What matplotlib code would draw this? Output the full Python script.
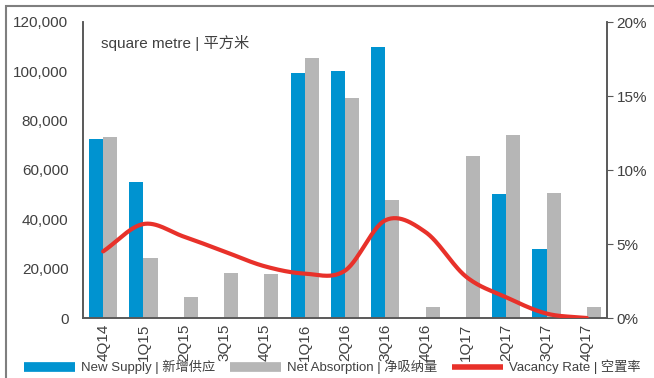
import numpy as np
import matplotlib.pyplot as plt
from matplotlib.lines import Line2D
from matplotlib.patches import Rectangle

plt.rcParams['font.family'] = ['Liberation Sans', 'Noto Sans CJK SC']

quarters = ['4Q14', '1Q15', '2Q15', '3Q15', '4Q15', '1Q16', '2Q16',
            '3Q16', '4Q16', '1Q17', '2Q17', '3Q17', '4Q17']
new_supply = [72500, 55100, 0, 0, 0, 99300, 100100, 109900, 0, 0, 50300, 28000, 0]
net_absorption = [73200, 24400, 8600, 18100, 18000, 105400, 89200, 47800,
                  4300, 65700, 74200, 50700, 4600]
vacancy = [4.5, 6.35, 5.5, 4.5, 3.5, 3.0, 3.2, 6.6, 5.8, 2.8, 1.4, 0.3, 0.0]

blue = '#0093D0'
grey = '#B6B6B6'
red = '#E8312A'
txt = '#404040'
axc = '#595959'


def smooth(xs, ys, n=30):
    # Catmull-Rom curve through the points, like Excel's smoothed line
    xs = np.asarray(xs, float)
    ys = np.asarray(ys, float)
    px = np.concatenate([[2 * xs[0] - xs[1]], xs, [2 * xs[-1] - xs[-2]]])
    py = np.concatenate([[2 * ys[0] - ys[1]], ys, [2 * ys[-1] - ys[-2]]])
    ox, oy = [], []
    t = np.linspace(0, 1, n)
    for i in range(1, len(px) - 2):
        for p, o in ((px, ox), (py, oy)):
            p0, p1, p2, p3 = p[i - 1], p[i], p[i + 1], p[i + 2]
            o.extend(0.5 * (2 * p1 + (-p0 + p2) * t
                            + (2 * p0 - 5 * p1 + 4 * p2 - p3) * t ** 2
                            + (-p0 + 3 * p1 - 3 * p2 + p3) * t ** 3))
    return ox, oy


fig = plt.figure(figsize=(6.54, 3.78), dpi=100)
ax = fig.add_axes([83 / 654, 1 - 318 / 378, 524 / 654, 296 / 378])
ax2 = ax.twinx()

x = np.arange(len(quarters))
w = 0.35
ax.bar(x - w / 2, new_supply, w, color=blue, zorder=2)
ax.bar(x + w / 2, net_absorption, w, color=grey, zorder=2)

sx, sy = smooth(x, vacancy)
ax2.plot(sx, sy, color=red, lw=3, solid_capstyle='round', zorder=3)

ax.set_xlim(-0.5, 12.5)
ax.set_ylim(0, 120000)
ax.set_yticks(np.arange(0, 120001, 20000))
ax.set_yticklabels([f'{v:,}' for v in range(0, 120001, 20000)])
ax2.set_ylim(0, 20)
ax2.set_yticks([0, 5, 10, 15, 20])
ax2.set_yticklabels([f'{v}%' for v in [0, 5, 10, 15, 20]])

ax.set_xticks(x)
ax.set_xticklabels(quarters, rotation=90)

for a in (ax, ax2):
    a.spines['top'].set_visible(False)
    for s in ('left', 'right', 'bottom'):
        a.spines[s].set_color(axc)
        a.spines[s].set_linewidth(1.2)
ax.tick_params(axis='y', length=0, labelsize=11, labelcolor=txt, pad=10.5)
ax.tick_params(axis='x', length=0, labelsize=11, labelcolor=txt, pad=4)
ax2.tick_params(axis='y', direction='out', length=4, color=axc,
                labelsize=11, labelcolor=txt, pad=3)

ax.text(0.035, 0.955, 'square metre | 平方米', transform=ax.transAxes,
        fontsize=11, color=txt, va='top', ha='left')

handles = [Line2D([], [], color=blue, lw=7, solid_capstyle='butt'),
           Line2D([], [], color=grey, lw=7, solid_capstyle='butt'),
           Line2D([], [], color=red, lw=4, solid_capstyle='butt')]
labels = ['New Supply | 新增供应', 'Net Absorption | 净吸纳量', 'Vacancy Rate | 空置率']
fig.legend(handles, labels, loc='center', bbox_to_anchor=(0.508, 1 - 367 / 378),
           ncol=3, frameon=False, fontsize=9.5, handlelength=3.9,
           columnspacing=1.1, handletextpad=0.45, labelcolor=txt,
           borderpad=0, borderaxespad=0)

fig.patches.append(Rectangle((6 / 654, -0.01), 1.0, 1 - 6 / 378 + 0.01,
                             transform=fig.transFigure, fill=False,
                             edgecolor='#7F7F7F', lw=1.5))

fig.savefig('out.png', dpi=100)
